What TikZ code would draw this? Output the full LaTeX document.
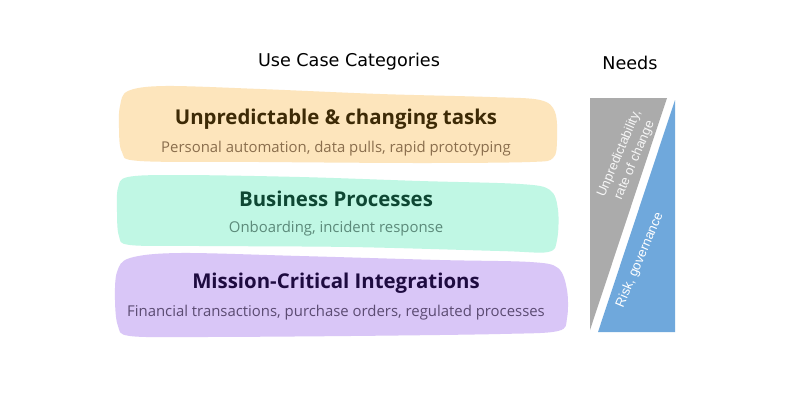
\documentclass[tikz,border=0pt]{standalone}
\usepackage{fontspec}
\setmainfont{Open Sans}
\newfontfamily\headfont{DejaVu Sans}
\newfontfamily\needfont{Liberation Sans}
\definecolor{orfill}{HTML}{FDE5BC}
\definecolor{ortitle}{HTML}{3D2A06}
\definecolor{orsub}{HTML}{8A6E4D}
\definecolor{grfill}{HTML}{C0F7E4}
\definecolor{grtitle}{HTML}{0E4733}
\definecolor{grsub}{HTML}{5C8A7A}
\definecolor{pufill}{HTML}{D9C6F7}
\definecolor{putitle}{HTML}{1E0B40}
\definecolor{pusub}{HTML}{5B4B72}
\definecolor{trigray}{HTML}{ABABAB}
\definecolor{triblue}{HTML}{6FA8DC}
\begin{document}
\begin{tikzpicture}[x=1pt,y=-1pt,
  header/.style={font=\headfont\fontsize{17.6}{21}\selectfont, text=black},
  cattitle/.style={font=\bfseries\fontsize{20.4}{24}\selectfont},
  catsub/.style={font=\fontsize{14.9}{18}\selectfont},
  needtext/.style={font=\needfont\fontsize{13.2}{16.5}\selectfont, text=white, align=center, rotate=67, inner sep=0pt}]
\useasboundingbox (0,0) rectangle (800,400);
\fill[white] (0,0) rectangle (800,400);
% blobs
\fill[orfill] plot[smooth cycle, tension=0.55] coordinates {(120,106) (128,91) (165,86) (260,89) (380,94) (490,97) (540,100) (555,112) (557,140) (553,158) (530,162) (420,163) (260,162) (140,161) (122,152) (119,128)};
\fill[grfill] plot[smooth cycle, tension=0.55] coordinates {(118,188) (128,177) (180,175) (300,177) (420,181) (520,184) (550,190) (558,210) (557,240) (548,252) (500,251) (350,247) (200,246) (130,245) (119,236) (117,212)};
\fill[pufill] plot[smooth cycle, tension=0.55] coordinates {(117,272) (130,258) (180,253) (300,256) (440,260) (530,262) (558,268) (567,290) (567,318) (558,331) (500,334) (350,336) (200,337) (130,336) (118,326) (115,300)};
% headers
\node[header] (hcat) at (349,62) {Use Case Categories};
\node[header] (hneed) at (630,63) {Needs};
% category texts
\node[cattitle, text=ortitle] (t1) at (336,119) {Unpredictable \& changing tasks};
\node[catsub, text=orsub] (s1) at (336,149) {Personal automation, data pulls, rapid prototyping};
\node[cattitle, text=grtitle] (t2) at (336,199) {Business Processes};
\node[catsub, text=grsub] (s2) at (336,229) {Onboarding, incident response};
\node[cattitle, text=putitle] (t3) at (336,283) {Mission-Critical Integrations};
\node[catsub, text=pusub] (s3) at (336,313) {Financial transactions, purchase orders, regulated processes};
% needs triangles
\fill[trigray] (590,98) -- (667,98) -- (590,330) -- cycle;
\fill[triblue] (675,100) -- (675,332) -- (598,332) -- cycle;
\node[needtext, text=white!93!gray] (n1) at (627,157) {Unpredictability,\\rate of change};
\node[needtext] (n2) at (640,260) {Risk, governance};
\end{tikzpicture}
\end{document}
